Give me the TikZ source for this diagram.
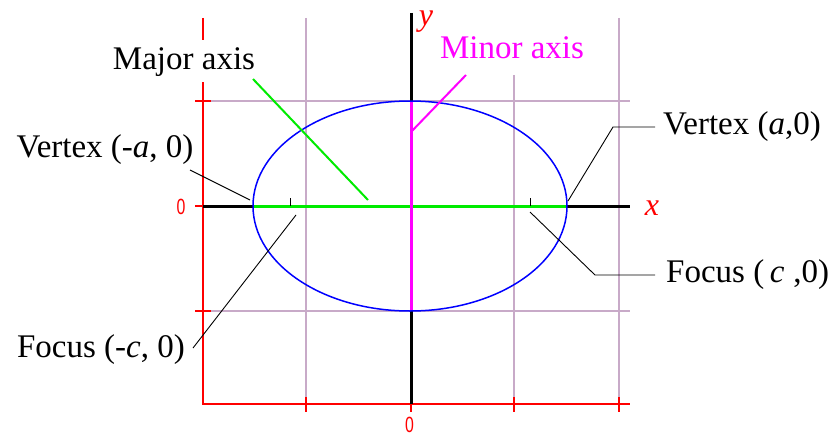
\documentclass[tikz,border=0pt]{standalone}
\usepackage{fontspec}
\setmainfont{Liberation Serif}
\newfontfamily\sansf{Liberation Sans}
\definecolor{gridc}{RGB}{200,170,200}
\definecolor{mag}{RGB}{255,0,255}
\definecolor{grn}{RGB}{0,235,0}
\definecolor{blu}{RGB}{0,0,255}
\begin{document}
\begin{tikzpicture}[x=1pt,y=-1pt,
  lbl/.style={font=\fontsize{33}{38}\selectfont, inner sep=0pt},
  num/.style={font=\sansf\fontsize{22}{24}\selectfont, text=red, inner sep=0pt},
  axlbl/.style={font=\fontsize{32}{34}\selectfont\itshape, text=red, inner sep=0pt},
  gridln/.style={gridc, line width=1.3pt},
  redln/.style={red, line width=1.2pt},
  axisln/.style={black, line width=3pt},
  leader/.style={black, line width=0.9pt}]
\useasboundingbox (0,0) rectangle (835,436);
% grid
\draw[gridln] (211,101) -- (630,101);
\draw[gridln] (211,311) -- (630,311);
\draw[gridln] (306,18) -- (306,404);
\draw[gridln] (514,75) -- (514,404);
\draw[gridln] (619,18) -- (619,404);
% red frame axes
\draw[redln] (203,18) -- (203,40);
\draw[redln] (203,82) -- (203,404) -- (630,404);
\foreach \yy in {101,206,311} \draw[redln] (195,\yy) -- (211,\yy);
\foreach \xx in {306,411,514,619} \draw[redln] (\xx,397) -- (\xx,412);
% main axes
\draw[axisln] (203,206) -- (630,206);
\draw[axisln] (411,13) -- (411,404);
\draw[grn, line width=3pt] (253,206) -- (566,206);
\draw[mag, line width=3pt] (411,101) -- (411,311);
% ellipse
\draw[blu, line width=1.5pt] (410,206) ellipse [x radius=157pt, y radius=105pt];
% foci ticks
\coordinate (f1) at (290,206);
\coordinate (f2) at (530,206);
\draw[black, line width=1pt] (290,198) -- (f1);
\draw[black, line width=1pt] (530,198) -- (f2);
% axis labels
\node[num] (zl) at (181,207) {\scalebox{0.72}[1]{0}};
\node[num] (zb) at (409.5,425) {\scalebox{0.72}[1]{0}};
\node[axlbl, anchor=base] (ylab) at (426,26) {y};
\node[axlbl, anchor=base] (xlab) at (652,215) {x};
% text labels
\node[lbl] (major) at (184,62) {Major axis};
\node[lbl, text=mag] (minor) at (512,48) {Minor axis};
\node[lbl] (vl) at (105,150) {Vertex (-\textit{a}, 0)};
\node[lbl] (vr) at (742,127) {Vertex (\textit{a},0)};
\node[lbl, anchor=west] (fr) at (666,275) {Focus (\,\textit{c}\hspace{9pt},0)};
\node[lbl] (fl) at (101,350) {Focus (-\textit{c}, 0)};
% leaders
\coordinate (majA) at (253,79);
\coordinate (majB) at (368,200);
\draw[grn, line width=2pt] (majA) -- (majB);
\coordinate (minA) at (466,75);
\coordinate (minB) at (411,132);
\draw[mag, line width=2pt] (minA) -- (minB);
\coordinate (vlA) at (190,170);
\coordinate (vlB) at (250,200);
\draw[leader] (vlA) -- (vlB);
\coordinate (vrA) at (568,201);
\coordinate (vrK) at (613,127);
\coordinate (vrB) at (655,127);
\draw[leader] (vrA) -- (vrK) -- (vrB);
\coordinate (frA) at (530,212);
\coordinate (frK) at (595,275);
\coordinate (frB) at (655,275);
\draw[leader] (frA) -- (frK) -- (frB);
\coordinate (flA) at (193,348);
\coordinate (flB) at (296,215);
\draw[leader] (flA) -- (flB);
\end{tikzpicture}
\end{document}
